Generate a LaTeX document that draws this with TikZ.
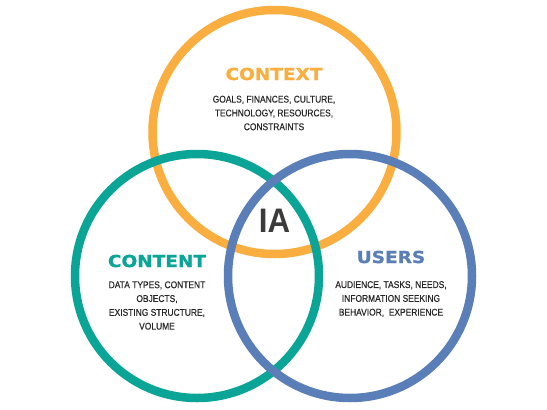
\documentclass[tikz,border=0pt]{standalone}
\usepackage{fontspec}
\newfontfamily\titlefont[FakeStretch=1.12,FakeBold=1.2]{DejaVu Sans}
\newfontfamily\bodyfont[FakeStretch=0.86,FakeBold=0.3]{Liberation Sans}
\newfontfamily\iafont[FakeStretch=0.92]{Liberation Sans}

\definecolor{ctxorange}{HTML}{F9AE3F}
\definecolor{cntteal}{HTML}{0AA597}
\definecolor{usrblue}{HTML}{5A7EB7}
\definecolor{iagray}{HTML}{3B3B3B}

\tikzset{
  ring/.style={draw=#1, circle, line width=8.5pt, minimum size=2*\r pt, inner sep=0pt},
  title/.style={text=#1, inner sep=0pt, font=\titlefont\bfseries\fontsize{16.5}{18}\selectfont},
  body/.style={align=center, inner sep=0pt, text=black!85, font=\bodyfont\fontsize{9.8}{13.8}\selectfont}
}

\begin{document}
\begin{tikzpicture}[x=1pt, y=-1pt]
\def\r{122}
\useasboundingbox (0,0) rectangle (547,410);
% the three sets
\node [ring=ctxorange, name=context] at (274.5,132) {};
\node [ring=cntteal,   name=content] at (197,276)   {};
\node [ring=usrblue,   name=users]   at (350,276)   {};
% titles
\node [title=ctxorange, name=ctxtitle] at (274,74)  {CONTEXT};
\node [title=cntteal,   name=cnttitle] at (157,261) {CONTENT};
\node [title=usrblue,   name=usrtitle] at (391,257) {USERS};
% what each set holds
\node [body, name=ctxbody] at (274,113) {GOALS, FINANCES, CULTURE,\\TECHNOLOGY, RESOURCES,\\CONSTRAINTS};
\node [body, name=cntbody] at (157,305.5) {DATA TYPES, CONTENT\\OBJECTS,\\EXISTING STRUCTURE,\\VOLUME};
\node [body, name=usrbody] at (391,299) {AUDIENCE, TASKS, NEEDS,\\INFORMATION SEEKING\\BEHAVIOR,\ \ EXPERIENCE};
% the overlap
\node [text=iagray, inner sep=0pt, font=\iafont\bfseries\fontsize{34}{36}\selectfont, name=ia] at (274.5,221) {IA};
\end{tikzpicture}
\end{document}
